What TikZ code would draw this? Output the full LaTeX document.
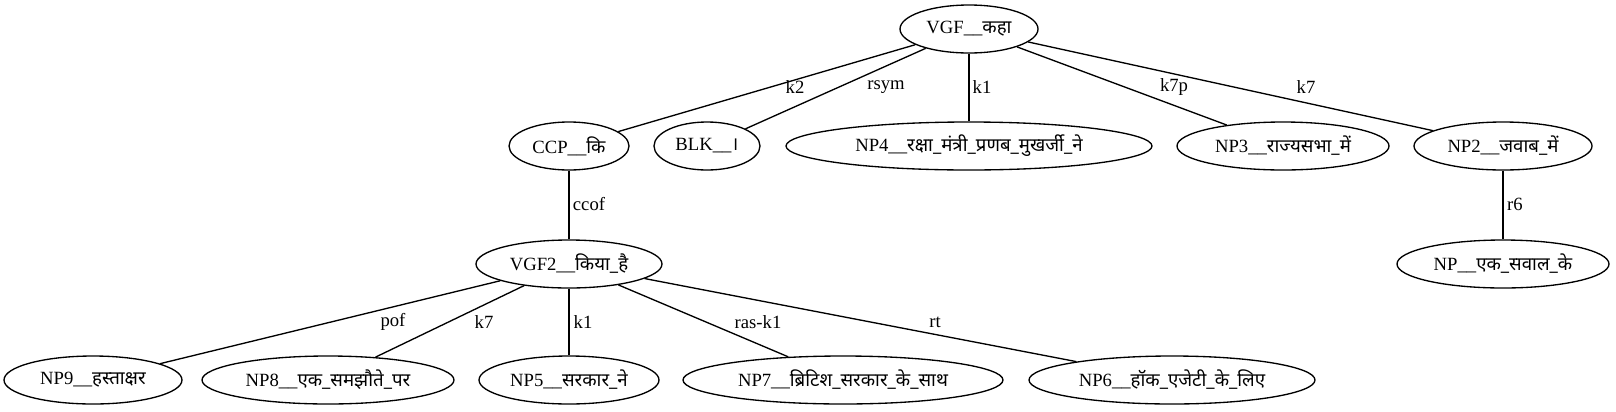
\documentclass[tikz,border=0pt]{standalone}
\usepackage{fontspec}
\setmainfont{Liberation Serif}
\newfontfamily\deva[Script=Devanagari]{Noto Sans}
\usetikzlibrary{shapes.geometric}
\newcommand{\hi}[1]{{\deva #1}}
\begin{document}
\begin{tikzpicture}[x=0.75pt,y=-0.75pt,
  font=\fontsize{14}{16}\selectfont,
  ell/.style={ellipse, draw, line width=1pt, minimum height=36pt, inner sep=0pt, minimum width=#1},
  conn/.style={draw, line width=1pt},
  elbl/.style={inner sep=0pt}]
\useasboundingbox (0,0) rectangle (1616,411);
% row 1
\node[ell=103.5pt] (vgf) at (969,29) {VGF\_\_\hi{कहा}};
% row 2
\node[ell=90pt] (ccp) at (569,146) {CCP\_\_\hi{कि}};
\node[ell=79.5pt] (blk) at (707,146) {BLK\_\_\hi{।}};
\node[ell=274.5pt] (np4) at (969,146) {NP4\_\_\hi{रक्षा\_मंत्री\_प्रणब\_मुखर्जी\_ने}};
\node[ell=159pt] (np3) at (1283,146) {NP3\_\_\hi{राज्यसभा\_में}};
\node[ell=133.5pt] (np2) at (1503,146) {NP2\_\_\hi{जवाब\_में}};
% row 3
\node[ell=139.5pt] (vgf2) at (569,264) {VGF2\_\_\hi{किया\_है}};
\node[ell=159pt] (np) at (1503,264) {NP\_\_\hi{एक\_सवाल\_के}};
% row 4
\node[ell=133.5pt] (np9) at (93,380) {NP9\_\_\hi{हस्ताक्षर}};
\node[ell=189pt] (np8) at (328,380) {NP8\_\_\hi{एक\_समझौते\_पर}};
\node[ell=135pt] (np5) at (569,380) {NP5\_\_\hi{सरकार\_ने}};
\node[ell=240pt] (np7) at (843,380) {NP7\_\_\hi{ब्रिटिश\_सरकार\_के\_साथ}};
\node[ell=214.5pt] (np6) at (1172,380) {NP6\_\_\hi{हॉक\_एजेटी\_के\_लिए}};
% connectors
\draw[conn] (vgf) -- (ccp);
\draw[conn] (vgf) -- (blk);
\draw[conn] (vgf) -- (np4);
\draw[conn] (vgf) -- (np3);
\draw[conn] (vgf) -- (np2);
\draw[conn] (ccp) -- (vgf2);
\draw[conn] (np2) -- (np);
\draw[conn] (vgf2) -- (np9);
\draw[conn] (vgf2) -- (np8);
\draw[conn] (vgf2) -- (np5);
\draw[conn] (vgf2) -- (np7);
\draw[conn] (vgf2) -- (np6);
% labels
\node[elbl] (lk2) at (795,87) {k2};
\node[elbl] (lrsym) at (886,87) {rsym};
\node[elbl] (lk1a) at (982,87) {k1};
\node[elbl] (lk7p) at (1174,87) {k7p};
\node[elbl] (lk7a) at (1306,87) {k7};
\node[elbl] (lccof) at (589,204) {ccof};
\node[elbl] (lr6) at (1515,204) {r6};
\node[elbl] (lpof) at (393,322) {pof};
\node[elbl] (lk7b) at (484,322) {k7};
\node[elbl] (lk1b) at (583,322) {k1};
\node[elbl] (lras) at (758,322) {ras-k1};
\node[elbl] (lrt) at (935,322) {rt};
\end{tikzpicture}
\end{document}
